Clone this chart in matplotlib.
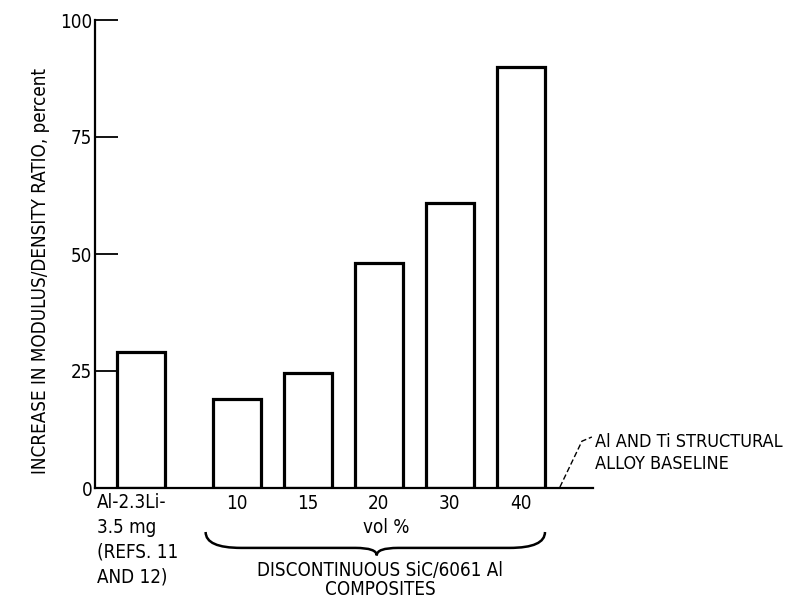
import numpy as np
import matplotlib
matplotlib.use("Agg")
import matplotlib.pyplot as plt
from matplotlib import font_manager
from matplotlib.path import Path
from matplotlib.patches import PathPatch

# values
alloy_label = "Al-2.3Li-\n3.5 mg\n(REFS. 11\nAND 12)"
alloy_value = 29
vol_pct = ["10", "15", "20", "30", "40"]
sic_values = [19, 24.5, 48, 61, 90]
yticks = [0, 25, 50, 75, 100]

# pick a narrow face if there is one, the lettering in the original is condensed
names = {(f.name, f.stretch) for f in font_manager.fontManager.ttflist}
if any(n == "Liberation Sans Narrow" for n, s in names):
    font = dict(family="Liberation Sans Narrow")
    fs = 15.5
elif ("DejaVu Sans", "condensed") in names:
    font = dict(family="DejaVu Sans", stretch="condensed")
    fs = 13.5
else:
    font = dict(family="Roboto")
    fs = 13.5
plt.rcParams["font.family"] = font["family"]

fig = plt.figure(figsize=(7.99, 6.07), dpi=100)
ax = fig.add_axes([95 / 799, 1 - 488 / 607, (593 - 95) / 799, (488 - 20) / 607])

x = np.r_[0, 1.35 + np.arange(len(sic_values))]
heights = [alloy_value] + sic_values
ax.bar(x, heights, width=0.68, facecolor="white", edgecolor="black", linewidth=2.3)

ax.set_xlim(-0.648, 6.366)
ax.set_ylim(0, 100)
for s in ["top", "right"]:
    ax.spines[s].set_visible(False)
ax.spines["left"].set_linewidth(1.6)
ax.spines["bottom"].set_linewidth(1.6)

ax.set_yticks(yticks)
ax.set_yticklabels([str(t) for t in yticks], fontsize=fs, **font)
ax.tick_params(axis="y", direction="in", length=16.5, width=1.3, pad=2)
ax.set_xticks(x[1:])
ax.set_xticklabels(vol_pct, fontsize=fs, **font)
ax.tick_params(axis="x", length=0, pad=4)

ax.text(-0.62, -1.1, alloy_label, ha="left", va="top", fontsize=fs,
        linespacing=1.38, clip_on=False, **font)

fig.text(41 / 799, 1 - 271 / 607, "INCREASE IN MODULUS/DENSITY RATIO, percent",
         rotation=90, ha="center", va="center", fontsize=fs, **font)

# brace under the SiC bars
x0, x1 = x[1] - 0.44, x[-1] + 0.34
xc = (x0 + x1) / 2 + 0.02
yt, ym, yp = -9.4, -12.8, -14.4
de, dt = 0.5, 0.3
verts = [(x0, yt), (x0, ym), (x0 + de, ym),
         (xc - dt, ym),
         (xc, ym), (xc, yp),
         (xc, ym), (xc + dt, ym),
         (x1 - de, ym),
         (x1, ym), (x1, yt)]
codes = [Path.MOVETO, Path.CURVE3, Path.CURVE3,
         Path.LINETO,
         Path.CURVE3, Path.CURVE3,
         Path.CURVE3, Path.CURVE3,
         Path.LINETO,
         Path.CURVE3, Path.CURVE3]
ax.add_patch(PathPatch(Path(verts, codes), facecolor="none", edgecolor="black",
                       linewidth=1.8, clip_on=False))

ax.text(3.46, -8.5, "vol %", ha="center", va="center", fontsize=fs,
        clip_on=False, **font)
ax.text(3.37, -19.7, "DISCONTINUOUS SiC/6061 Al\nCOMPOSITES", ha="center",
        va="center", fontsize=fs, linespacing=0.97, clip_on=False, **font)

# baseline note
ax.plot([5.90, 6.21, 6.35], [0.2, 10.0, 10.9], color="black", linewidth=1.0,
        linestyle=(0, (4, 2)), clip_on=False)
ax.text(6.39, 7.4, "Al AND Ti STRUCTURAL\nALLOY BASELINE", ha="left",
        va="center", fontsize=fs - 0.5, linespacing=1.3, clip_on=False, **font)

fig.savefig("out.png", dpi=100)
